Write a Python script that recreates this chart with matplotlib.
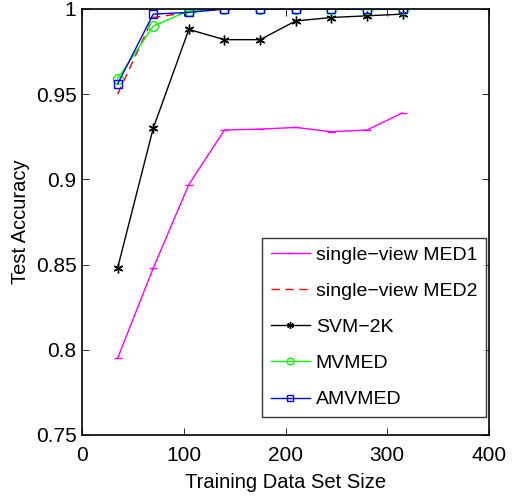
import matplotlib
matplotlib.use("Agg")
import matplotlib.pyplot as plt

x = [35, 70, 105, 140, 175, 210, 245, 280, 315]
med1 = [0.795, 0.848, 0.897, 0.929, 0.9295, 0.9305, 0.928, 0.929, 0.939]
med2 = [0.950, 0.995, 0.998, 1.0, 1.0, 1.0, 1.0, 1.0, 1.0]
svm2k = [0.848, 0.930, 0.988, 0.982, 0.982, 0.993, 0.995, 0.996, 0.997]
mvmed = [0.959, 0.990, 0.999, 1.0, 1.0, 1.0, 1.0, 1.0, 1.0]
amvmed = [0.956, 0.997, 0.998, 1.0, 1.0, 1.0, 1.0, 1.0, 1.0]

plt.rcParams['font.family'] = ['Liberation Sans', 'DejaVu Sans']

fig = plt.figure(figsize=(5.14, 5.0), dpi=100)
ax = fig.add_axes([82/514, 65/500, 407/514, 426/500])

ax.plot(x, med1, color='magenta', lw=1, marker='_', ms=6, label='single\u2212view MED1')
ax.plot(x, med2, color='red', lw=1, ls=(0, (6, 4)), label='single\u2212view MED2')
ax.plot(x, svm2k, color='black', lw=1, marker=(6, 2, 0), ms=7, label='SVM\u22122K')
ax.plot(x, mvmed, color='#00ff00', lw=1, marker='o', ms=7, mfc='none', label='MVMED')
ax.plot(x, amvmed, color='blue', lw=1, marker='s', ms=6, mfc='none', label='AMVMED')

ax.set_xlim(0, 400)
ax.set_ylim(0.75, 1.0)
ax.set_xticks([0, 100, 200, 300, 400])
ax.set_yticks([0.75, 0.8, 0.85, 0.9, 0.95, 1.0])
ax.set_yticklabels(['0.75', '0.8', '0.85', '0.9', '0.95', '1'])
ax.tick_params(direction='in', top=True, right=True, labelsize=15, length=5, width=0.6, pad=4)
ax.tick_params(axis='x', pad=8)
for s in ax.spines.values():
    s.set_linewidth(1.2)
ax.set_xlabel('Training Data Set Size', fontsize=14.5, labelpad=6)
ax.set_ylabel('Test Accuracy', fontsize=14.5, labelpad=4)

leg = ax.legend(loc='lower right', bbox_to_anchor=(0.9926, 0.042), fontsize=14,
                frameon=True, fancybox=False, edgecolor='black', handlelength=2.0,
                borderaxespad=0, labelspacing=0.95, handletextpad=0.3,
                markerscale=0.7, borderpad=0.45)
leg.get_frame().set_linewidth(1.0)

fig.savefig('out.png', dpi=100)
